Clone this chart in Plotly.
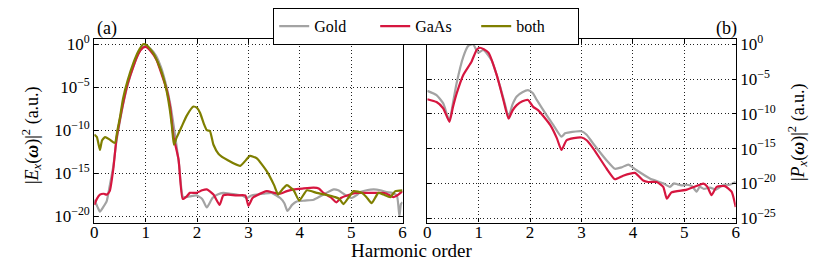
import plotly.graph_objects as go

# ---------------- data (log10 of intensity) ----------------
gold_a_x = [0, 0.06, 0.11, 0.17, 0.24, 0.3, 0.37, 0.43, 0.5, 0.56, 0.65, 0.76, 0.86, 0.95, 1.02, 1.1, 1.2, 1.3, 1.4, 1.48, 1.57, 1.65, 1.73, 1.86, 1.99, 2.1, 2.19, 2.3, 2.4, 2.51, 2.65, 2.77, 2.88, 2.97, 3.06, 3.16, 3.3, 3.45, 3.62, 3.7, 3.76, 3.85, 3.94, 4.1, 4.27, 4.4, 4.49, 4.58, 4.66, 4.75, 4.85, 4.93, 5.01, 5.1, 5.18, 5.3, 5.44, 5.57, 5.69, 5.8, 5.89, 5.94, 5.97, 6.0]
gold_a_y = [-18.1, -18.9, -19.5, -19.0, -18.3, -16.5, -14.2, -11.3, -8.9, -7.0, -4.7, -2.6, -1.05, -0.3, -0.25, -0.55, -1.3, -2.7, -4.8, -7.0, -10.5, -14.0, -17.8, -17.7, -17.6, -18.0, -19.0, -17.9, -17.5, -17.3, -17.4, -17.5, -17.6, -17.9, -17.6, -17.5, -17.4, -17.3, -17.9, -18.5, -19.4, -18.7, -18.3, -18.2, -18.1, -17.7, -17.4, -17.1, -16.9, -17.0, -17.4, -17.7, -17.9, -17.6, -17.2, -17.0, -16.9, -17.0, -17.2, -17.3, -17.6, -20.0, -18.6, -18.4]

gaas_a_x = [0, 0.05, 0.11, 0.18, 0.24, 0.3, 0.37, 0.43, 0.5, 0.56, 0.65, 0.76, 0.86, 0.95, 1.0, 1.1, 1.21, 1.3, 1.41, 1.48, 1.54, 1.64, 1.72, 1.8, 1.86, 1.99, 2.1, 2.19, 2.32, 2.44, 2.51, 2.6, 2.77, 2.94, 3.0, 3.08, 3.16, 3.36, 3.5, 3.62, 3.75, 3.88, 4.05, 4.27, 4.37, 4.46, 4.6, 4.71, 4.8, 4.92, 5.11, 5.3, 5.44, 5.6, 5.69, 5.82, 5.92, 6.0]
gaas_a_y = [-18.7, -18.0, -17.5, -17.4, -17.5, -17.1, -14.5, -11.1, -8.7, -6.9, -4.6, -2.6, -1.1, -0.4, -0.3, -0.8, -1.8, -3.3, -5.3, -7.4, -10.7, -13.4, -18.0, -17.7, -17.3, -17.3, -17.0, -16.9, -17.5, -18.7, -17.6, -17.5, -17.6, -17.6, -18.8, -17.9, -17.6, -17.1, -17.3, -17.4, -17.1, -16.9, -16.8, -16.7, -16.8, -17.3, -17.8, -18.4, -17.9, -17.6, -17.3, -17.3, -17.3, -17.3, -17.4, -17.8, -17.5, -17.1]

both_a_x = [0, 0.05, 0.11, 0.15, 0.21, 0.3, 0.4, 0.45, 0.5, 0.56, 0.65, 0.76, 0.86, 0.95, 1.02, 1.15, 1.25, 1.34, 1.41, 1.47, 1.51, 1.55, 1.6, 1.7, 1.8, 1.93, 2.0, 2.06, 2.13, 2.19, 2.25, 2.32, 2.42, 2.6, 2.84, 2.95, 3.03, 3.16, 3.36, 3.5, 3.58, 3.66, 3.75, 3.88, 3.99, 4.14, 4.33, 4.49, 4.69, 4.77, 4.85, 5.05, 5.21, 5.3, 5.4, 5.53, 5.63, 5.76, 5.86, 6.0]
both_a_y = [-10.5, -10.8, -12.3, -11.2, -10.8, -11.1, -11.5, -10.0, -8.5, -6.3, -4.2, -2.2, -0.8, 0.0, -0.1, -1.05, -2.3, -3.8, -5.5, -7.6, -9.5, -11.7, -10.9, -9.6, -8.3, -7.25, -7.4, -8.0, -9.2, -10.0, -10.1, -11.7, -12.76, -13.5, -14.15, -13.5, -13.0, -13.26, -14.8, -16.4, -17.5, -16.9, -16.4, -17.0, -18.2, -17.0, -17.3, -17.5, -17.8, -18.0, -18.6, -17.1, -17.3, -17.8, -18.5, -17.3, -17.5, -17.8, -17.1, -17.0]

gold_b_x = [0, 0.18, 0.31, 0.43, 0.5, 0.57, 0.7, 0.8, 0.89, 0.99, 1.09, 1.25, 1.41, 1.5, 1.58, 1.66, 1.74, 1.85, 1.96, 2.05, 2.13, 2.32, 2.45, 2.61, 2.68, 2.74, 3.0, 3.1, 3.23, 3.49, 3.65, 3.78, 3.91, 4.07, 4.33, 4.59, 4.72, 4.8, 4.85, 4.95, 5.05, 5.15, 5.24, 5.3, 5.38, 5.5, 5.62, 5.76, 5.88, 6.0]
gold_b_y = [-6.7, -7.3, -8.5, -11.0, -8.4, -5.6, -1.8, -0.2, 0.0, -1.2, -0.8, -2.3, -5.9, -8.3, -10.4, -8.6, -7.5, -6.9, -6.6, -7.0, -8.0, -10.2, -11.6, -13.3, -12.8, -12.7, -12.5, -13.0, -14.3, -16.7, -17.9, -17.7, -17.3, -18.1, -19.3, -20.0, -20.5, -20.0, -20.1, -20.3, -20.2, -20.4, -21.2, -20.5, -20.8, -20.6, -20.9, -20.2, -20.2, -19.8]

gaas_b_x = [0, 0.18, 0.31, 0.43, 0.5, 0.57, 0.7, 0.86, 0.96, 1.02, 1.1, 1.19, 1.35, 1.48, 1.58, 1.66, 1.74, 1.85, 1.96, 2.06, 2.16, 2.39, 2.52, 2.61, 2.71, 2.85, 3.0, 3.1, 3.23, 3.49, 3.65, 3.81, 4.04, 4.2, 4.3, 4.46, 4.59, 4.66, 4.75, 5.05, 5.3, 5.37, 5.45, 5.53, 5.63, 5.79, 5.92, 6.0]
gaas_b_y = [-7.9, -8.3, -9.2, -11.15, -9.0, -7.1, -4.4, -2.5, -0.8, -0.5, -0.7, -1.2, -4.4, -8.0, -10.7, -9.5, -8.75, -8.2, -8.0, -9.0, -9.5, -11.6, -13.5, -15.2, -13.8, -13.5, -13.4, -13.8, -15.0, -17.9, -19.4, -18.9, -18.5, -19.6, -19.8, -19.8, -20.5, -22.2, -21.3, -20.9, -20.2, -20.05, -20.5, -21.7, -20.5, -20.4, -21.2, -23.4]

x_ticks = [0, 1, 2, 3, 4, 5, 6]
y_exp_a = [0, -5, -10, -15, -20]
y_exp_b = [0, -5, -10, -15, -20, -25]

series_names = ["Gold", "GaAs", "both"]
colors = {"Gold": "#a3a3a3", "GaAs": "#d6163f", "both": "#7f7f00"}

FONT = "Liberation Serif, Times New Roman, serif"
W, H = 830, 264
OFF = 8  # page body margin offset


def p(v):
    return [10 ** e for e in v]


def px_x(v):
    return (v - OFF) / W


def px_y(v):
    return 1 - (v - OFF) / H


LINE = dict(width=2.2, shape="spline", smoothing=0.5)

fig = go.Figure()
fig.add_trace(go.Scatter(x=gold_a_x, y=p(gold_a_y), name="Gold", mode="lines",
                         line=dict(LINE, color=colors["Gold"]), xaxis="x", yaxis="y"))
fig.add_trace(go.Scatter(x=gaas_a_x, y=p(gaas_a_y), name="GaAs", mode="lines",
                         line=dict(LINE, color=colors["GaAs"]), xaxis="x", yaxis="y"))
fig.add_trace(go.Scatter(x=both_a_x, y=p(both_a_y), name="both", mode="lines",
                         line=dict(LINE, color=colors["both"]), xaxis="x", yaxis="y"))
fig.add_trace(go.Scatter(x=gold_b_x, y=p(gold_b_y), name="Gold", mode="lines", showlegend=False,
                         line=dict(LINE, color=colors["Gold"]), xaxis="x2", yaxis="y2"))
fig.add_trace(go.Scatter(x=gaas_b_x, y=p(gaas_b_y), name="GaAs", mode="lines", showlegend=False,
                         line=dict(LINE, color=colors["GaAs"]), xaxis="x2", yaxis="y2"))

tickfont = dict(family=FONT, size=17, color="black")
GRID = dict(showgrid=True, gridcolor="#222", griddash="1px,2.5px", gridwidth=1)
common_x = dict(range=[0, 6], tickvals=x_ticks, ticktext=[str(t) for t in x_ticks],
                showline=True, linecolor="black", linewidth=1.2, mirror="ticks",
                ticks="inside", ticklen=4, tickcolor="black", automargin=False,
                ticklabelstandoff=-6,
                zeroline=False, tickfont=tickfont, **GRID)


def yax(exps, rng, side, anchor):
    return dict(type="log", range=rng, tickvals=[10 ** e for e in exps],
                ticktext=["10<sup>%s</sup>" % (str(e).replace("-", "\u2212")) for e in exps],
                side=side, anchor=anchor, automargin=False,
                showline=True, linecolor="black", linewidth=1.2, mirror="ticks",
                ticks="inside", ticklen=4, tickcolor="black",
                zeroline=False, tickfont=tickfont,
                domain=[px_y(222.5), px_y(39.3)], **GRID)


fig.update_layout(
    width=W, height=H, margin=dict(l=0, r=0, t=0, b=0, autoexpand=False),
    paper_bgcolor="white", plot_bgcolor="white",
    font=dict(family=FONT, size=17, color="black"),
    xaxis=dict(common_x, domain=[px_x(94.3), px_x(402.5)], anchor="y"),
    xaxis2=dict(common_x, domain=[px_x(427.3), px_x(735.7)], anchor="y2"),
    yaxis=yax(y_exp_a, [-20.75, 0.58], "left", "x"),
    yaxis2=yax(y_exp_b, [-25.63, 0.72], "right", "x2"),
    showlegend=True,
    legend=dict(orientation="h", x=px_x(273), y=1.0, xanchor="left", yanchor="top",
                bordercolor="black", borderwidth=1.2, bgcolor="white",
                font=dict(family=FONT, size=16), entrywidth=56, entrywidthmode="pixels",
                tracegroupgap=0),
)

ann = [
    dict(text="(a)", x=px_x(107), y=px_y(28)),
    dict(text="(b)", x=px_x(726), y=px_y(28)),
    dict(text="Harmonic order", x=px_x(411), y=px_y(250), size=19),
    dict(text="|<i>E<sub>x</sub></i>(<i><b>\u03c9</b></i>)|<sup>2</sup> (a.u.)",
         x=px_x(31), y=px_y(135), angle=-90, size=18),
    dict(text="|<i>P<sub>x</sub></i>(<i><b>\u03c9</b></i>)|<sup>2</sup> (a.u.)",
         x=px_x(797), y=px_y(132), angle=-90, size=18),
]
for a in ann:
    fig.add_annotation(text=a["text"], x=a["x"], y=a["y"], xref="paper", yref="paper",
                       xanchor="center", yanchor="middle", showarrow=False,
                       textangle=a.get("angle", 0),
                       font=dict(family=FONT, size=a.get("size", 18), color="black"))

fig.write_html("out.html")
